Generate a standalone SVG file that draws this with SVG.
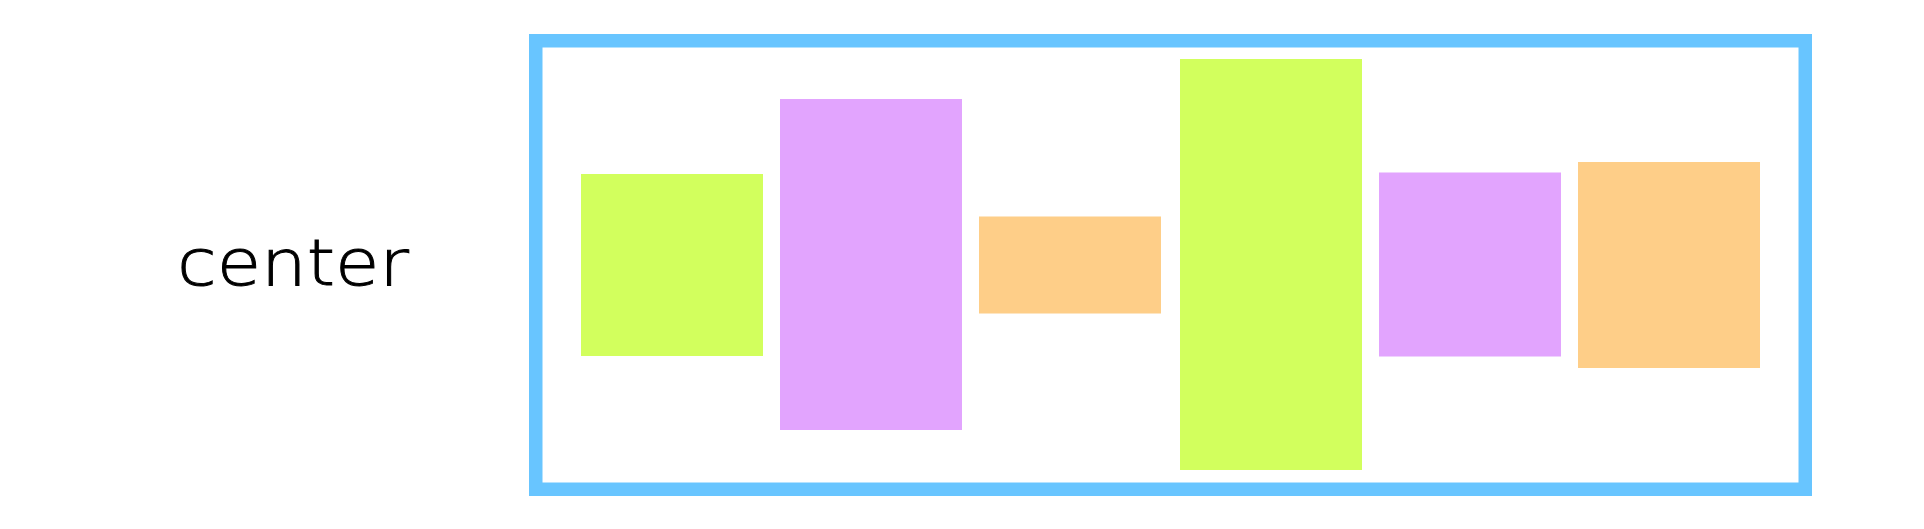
<svg xmlns="http://www.w3.org/2000/svg" width="1924" height="529" viewBox="0 0 1924 529">
<style>
.frame{fill:none;stroke:#68c5ff;stroke-width:13.5}
.g{fill:#d2ff5d}
.p{fill:#e2a4fe}
.o{fill:#fece88}
.lbl{font-family:"DejaVu Sans","Open Sans",sans-serif;font-weight:200;font-size:64px;fill:#000;stroke:#000;stroke-width:0.9}
</style>
<rect width="1924" height="529" fill="#fff"/>
<g id="label"><text class="lbl" x="177" y="285" textLength="232" lengthAdjust="spacingAndGlyphs">center</text></g>
<g id="container"><rect class="frame" x="535.75" y="40.75" width="1269.5" height="448.5"/></g>
<g id="item1"><rect class="g" x="581" y="174" width="182" height="182"/></g>
<g id="item2"><rect class="p" x="780" y="99" width="182" height="331"/></g>
<g id="item3"><rect class="o" x="979" y="216.5" width="182" height="97"/></g>
<g id="item4"><rect class="g" x="1180" y="59" width="182" height="411"/></g>
<g id="item5"><rect class="p" x="1379" y="172.5" width="182" height="184"/></g>
<g id="item6"><rect class="o" x="1578" y="162" width="182" height="206"/></g>
<g id="connectors"></g>
</svg>
